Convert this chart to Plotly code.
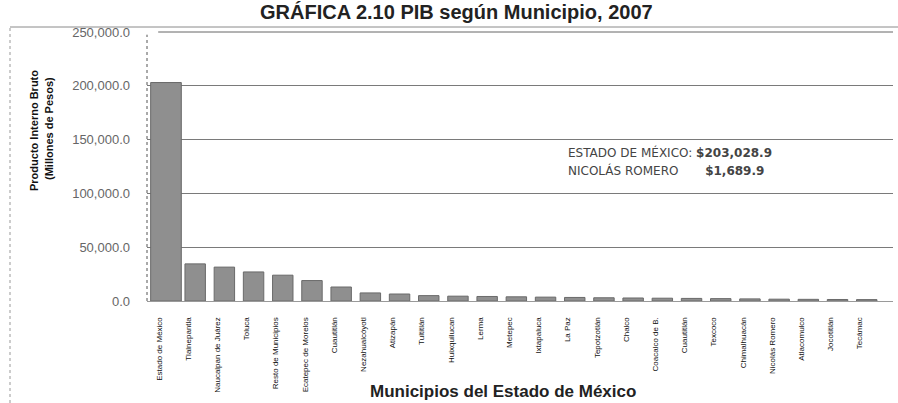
import plotly.graph_objects as go

# PIB 2007 por municipio (millones de pesos)
municipios = [
    "Estado de México", "Tlalnepantla", "Naucalpan de Juárez", "Toluca",
    "Resto de Municipios", "Ecatepec de Morelos", "Cuautitlán", "Nezahualcóyotl",
    "Atizapán", "Tultitlán", "Huixquilucan", "Lerma", "Metepec", "Ixtapaluca",
    "La Paz", "Tepotzotlán", "Chalco", "Coacalco de B.", "Cuautitlán", "Texcoco",
    "Chimalhuacán", "Nicolás Romero", "Atlacomulco", "Jocotitlán", "Tecámac",
]
pib = [
    203028.9, 34500, 31500, 27000, 24000, 19000, 13000, 7500,
    6500, 5000, 4500, 4200, 3900, 3600,
    3300, 3000, 2800, 2600, 2400, 2200,
    1950, 1689.9, 1550, 1400, 1300,
]
y_ticks = [0, 50000, 100000, 150000, 200000, 250000]
y_tick_text = ["0.0", "50,000.0", "100,000.0", "150,000.0", "200,000.0", "250,000.0"]

positions = list(range(len(municipios)))
widths = [1.05] + [0.7] * (len(municipios) - 1)

SANS = "Liberation Sans, Arial, sans-serif"
WIDE = "DejaVu Sans, Verdana, sans-serif"

# plot area in pixels: left 147, right 893, top 32, bottom 301
PL, PR, PT, PB = 147, 893, 32, 301


def px(x):
    return (x - PL) / (PR - PL)


def py(y):
    return (PB - y) / (PB - PT)


fig = go.Figure(
    go.Bar(
        x=positions,
        y=pib,
        width=widths,
        marker=dict(color="#8f8f8f", line=dict(color="#6a6a6a", width=1)),
        hoverinfo="skip",
    )
)

fig.update_layout(
    width=898,
    height=403,
    margin=dict(l=PL, r=898 - PR, t=PT, b=403 - PB),
    paper_bgcolor="white",
    plot_bgcolor="white",
    showlegend=False,
)

fig.update_xaxes(
    range=[-0.65, 24.9],
    tickmode="array",
    tickvals=positions,
    ticktext=municipios,
    tickangle=-90,
    tickfont=dict(family=SANS, size=8, color="#111"),
    ticklabelshift=-7,
    ticklabelstandoff=12,
    showgrid=False,
    showline=True,
    linecolor="#9a9a9a",
    linewidth=1,
    zeroline=False,
    ticks="",
)

fig.update_yaxes(
    range=[0, 250000],
    tickmode="array",
    tickvals=y_ticks,
    ticktext=y_tick_text,
    tickfont=dict(family=SANS, size=13, color="#666"),
    ticklabelstandoff=16,
    showgrid=True,
    gridcolor="#7a7a7a",
    gridwidth=1,
    zeroline=False,
    showline=False,
    ticks="",
)

shapes = [
    # dotted left axis of the plot area
    dict(type="line", xref="paper", yref="paper", x0=0, x1=0, y0=0, y1=0.99,
         line=dict(color="#555", width=1, dash="dot")),
    # top frame of the plot area
    dict(type="line", xref="paper", yref="paper", x0=0.015, x1=1, y0=1, y1=1,
         line=dict(color="#666", width=1)),
    # blank box behind the value notes, hiding the grid there
    dict(type="rect", xref="paper", yref="paper", x0=px(555), x1=px(830),
         y0=py(202), y1=py(128), fillcolor="white", line=dict(width=0),
         layer="between"),
    # outer page border: top and left
    dict(type="line", xref="paper", yref="paper", x0=px(10), x1=px(898),
         y0=py(27), y1=py(27), line=dict(color="#8a8a8a", width=1)),
    dict(type="line", xref="paper", yref="paper", x0=px(10), x1=px(10),
         y0=py(403), y1=py(27), line=dict(color="#999", width=1, dash="dot")),
]
fig.update_layout(shapes=shapes)

annotations = [
    dict(text="<b>GRÁFICA 2.10 PIB según Municipio, 2007</b>",
         xref="paper", yref="paper", x=px(456), y=py(12),
         xanchor="center", yanchor="middle", showarrow=False,
         font=dict(family=SANS, size=20, color="#222")),
    dict(text="<b>Producto Interno Bruto</b>",
         xref="paper", yref="paper", x=px(34), y=py(131),
         xanchor="center", yanchor="middle", textangle=-90, showarrow=False,
         font=dict(family=SANS, size=11, color="#111")),
    dict(text="<b>(Millones de Pesos)</b>",
         xref="paper", yref="paper", x=px(49), y=py(129),
         xanchor="center", yanchor="middle", textangle=-90, showarrow=False,
         font=dict(family=SANS, size=11, color="#111")),
    dict(text="<b>Municipios del Estado de México</b>",
         xref="paper", yref="paper", x=px(503), y=py(392),
         xanchor="center", yanchor="middle", showarrow=False,
         font=dict(family=SANS, size=17, color="#222")),
    dict(text=f"ESTADO DE MÉXICO: <b>${pib[0]:,.1f}</b>",
         xref="paper", yref="paper", x=px(566), y=py(152),
         xanchor="left", yanchor="middle", showarrow=False,
         font=dict(family=WIDE, size=12, color="#444")),
    dict(text="NICOLÁS ROMERO" + "&nbsp;" * 7 + f"<b>${pib[21]:,.1f}</b>",
         xref="paper", yref="paper", x=px(566), y=py(170),
         xanchor="left", yanchor="middle", showarrow=False,
         font=dict(family=WIDE, size=12, color="#444")),
]
fig.update_layout(annotations=annotations)

fig.write_html("out.html")
